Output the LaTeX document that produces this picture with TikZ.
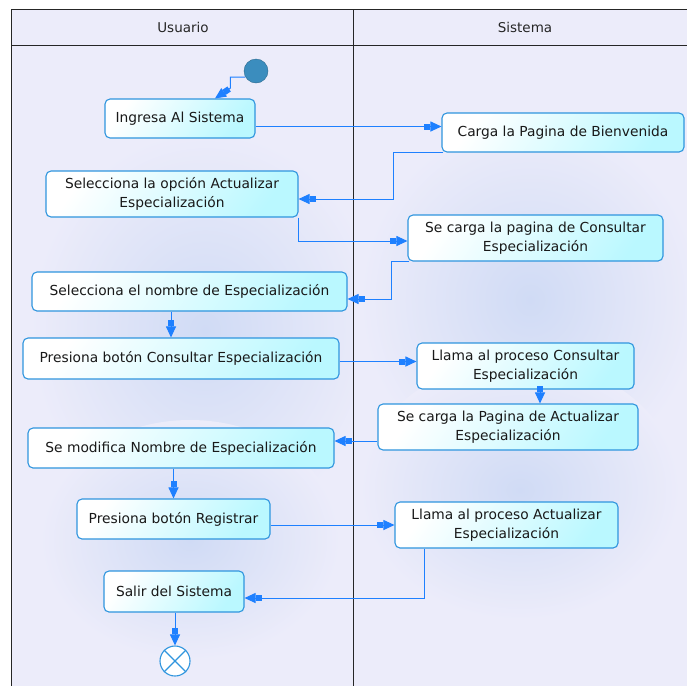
\documentclass[tikz,border=0pt]{standalone}
\usepackage{fontspec}
\setmainfont{DejaVu Sans}
\usetikzlibrary{arrows.meta}

\definecolor{lanebg}{HTML}{ECECFA}
\definecolor{laneblob}{HTML}{D0DBF5}
\definecolor{actline}{HTML}{2F95DE}
\definecolor{actfill}{HTML}{BAF8FF}
\definecolor{flowblue}{HTML}{1E80FF}
\definecolor{startfill}{HTML}{3B8DBE}

\tikzset{
  act/.style={draw=actline, line width=1.1pt, rounded corners=5pt, left color=white,
    right color=actfill, shading angle=55, inner sep=0pt, align=center, text=black!90,
    font=\fontsize{13.8}{19}\selectfont},
  flow/.style={draw=flowblue, line width=1pt,
    -{Rectangle[length=6pt,width=6pt]Triangle[length=11pt,width=10pt]}},
  lanetitle/.style={font=\fontsize{13.5}{16}\selectfont, text=black!85}
}

\begin{document}
\begin{tikzpicture}[x=1pt,y=-1pt]

  % Page and lanes
  \useasboundingbox (0,0) rectangle (687,686);
  \fill[white] (0,0) rectangle (687,686);
  \fill[lanebg] (11,9) rectangle (687,686);

  % Soft blobs behind the lanes
  \begin{scope}
    \clip (11,45) rectangle (353,686);
    \shade[inner color=laneblob, outer color=lanebg] (205,330) ellipse (175 and 200);
    \shade[inner color=laneblob, outer color=lanebg] (190,540) ellipse (150 and 120);
  \end{scope}
  \begin{scope}
    \clip (353,45) rectangle (687,686);
    \shade[inner color=laneblob, outer color=lanebg] (530,300) ellipse (170 and 180);
    \shade[inner color=laneblob, outer color=lanebg] (520,490) ellipse (160 and 130);
  \end{scope}

  % Frame
  \draw[black!85, line width=1pt] (687,9) -- (11,9) -- (11,686);
  \draw[black!85, line width=1pt] (11,45) -- (687,45);
  \draw[black!85, line width=1pt] (353,9) -- (353,686);
  \node[lanetitle] (usuario) at (183,27) {Usuario};
  \node[lanetitle] (sistema) at (525,27) {Sistema};

  % Start and end
  \node[circle, minimum size=24pt, inner sep=0pt, fill=startfill,
    draw=startfill!75!black] (start) at (256,71) {};
  \node[circle, minimum size=30pt, inner sep=0pt, fill=white, draw=actline,
    line width=1.1pt] (final) at (175,661) {};
  \draw[actline, line width=1.1pt] (final.45) -- (final.225);
  \draw[actline, line width=1.1pt] (final.135) -- (final.315);

  % Activities (Usuario)
  \node[act, minimum width=150pt, minimum height=39pt] (ingresa) at (180,118.5)
    {Ingresa Al Sistema};
  \node[act, minimum width=252pt, minimum height=46pt] (selopcion) at (172,194)
    {Selecciona la opción Actualizar\\Especialización};
  \node[act, minimum width=315pt, minimum height=39pt] (selnombre) at (189.5,291.5)
    {Selecciona el nombre de Especialización};
  \node[act, minimum width=316pt, minimum height=41pt] (presconsultar) at (181,358.5)
    {Presiona botón Consultar Especialización};
  \node[act, minimum width=306pt, minimum height=40pt] (modifica) at (181,448)
    {Se modifica Nombre de Especialización};
  \node[act, minimum width=193pt, minimum height=40pt] (presregistrar) at (173.5,519)
    {Presiona botón Registrar};
  \node[act, minimum width=140pt, minimum height=41pt] (salir) at (174,591.5)
    {Salir del Sistema};

  % Activities (Sistema)
  \node[act, minimum width=242pt, minimum height=39pt] (bienvenida) at (563,132.5)
    {Carga la Pagina de Bienvenida};
  \node[act, minimum width=255pt, minimum height=46pt] (cargaconsultar) at (535.5,238)
    {Se carga la pagina de Consultar\\Especialización};
  \node[act, minimum width=217pt, minimum height=46pt] (llamaconsultar) at (525.5,366)
    {Llama al proceso Consultar\\Especialización};
  \node[act, minimum width=260pt, minimum height=46pt] (cargaactualizar) at (508,427)
    {Se carga la Pagina de Actualizar\\Especialización};
  \node[act, minimum width=223pt, minimum height=46pt] (llamaactualizar) at (506.5,525)
    {Llama al proceso Actualizar\\Especialización};

  % Flows
  \draw[flow] (start.210) -| ++(-15,11) -- ([xshift=35pt]ingresa.north);
  \draw[flow] ([yshift=-8pt]ingresa.east) -- ([yshift=-8pt]ingresa.east -| bienvenida.west);
  \draw[flow] ([xshift=2pt]bienvenida.south west) -- ++(-50,0) |- ([yshift=-5pt]selopcion.east);
  \draw[flow] (selopcion.south east) |- ([yshift=-3pt]cargaconsultar.west);
  \draw[flow] ([xshift=2pt]cargaconsultar.south west) -- ++(-18,0) |- ([yshift=-7.5pt]selnombre.east);
  \draw[flow] ([xshift=-10pt]presconsultar.north |- selnombre.south) -- ([xshift=-10pt]presconsultar.north);
  \draw[flow] ([yshift=-3pt]presconsultar.east) -- ([yshift=-3pt]presconsultar.east -| llamaconsultar.west);
  \draw[flow] ([xshift=14.5pt]llamaconsultar.south) -- ([xshift=14.5pt]llamaconsultar.south |- cargaactualizar.north);
  \draw[flow] ([yshift=-14pt]cargaactualizar.west) -- ([yshift=-14pt]cargaactualizar.west -| modifica.east);
  \draw[flow] (presregistrar.north |- modifica.south) -- (presregistrar.north);
  \draw[flow] (presregistrar.east |- llamaactualizar.west) -- (llamaactualizar.west);
  \draw[flow] ([xshift=-82.5pt]llamaactualizar.south) |- ([yshift=-6.5pt]salir.east);
  \draw[flow] (final.north |- salir.south) -- (final.north);

\end{tikzpicture}
\end{document}
